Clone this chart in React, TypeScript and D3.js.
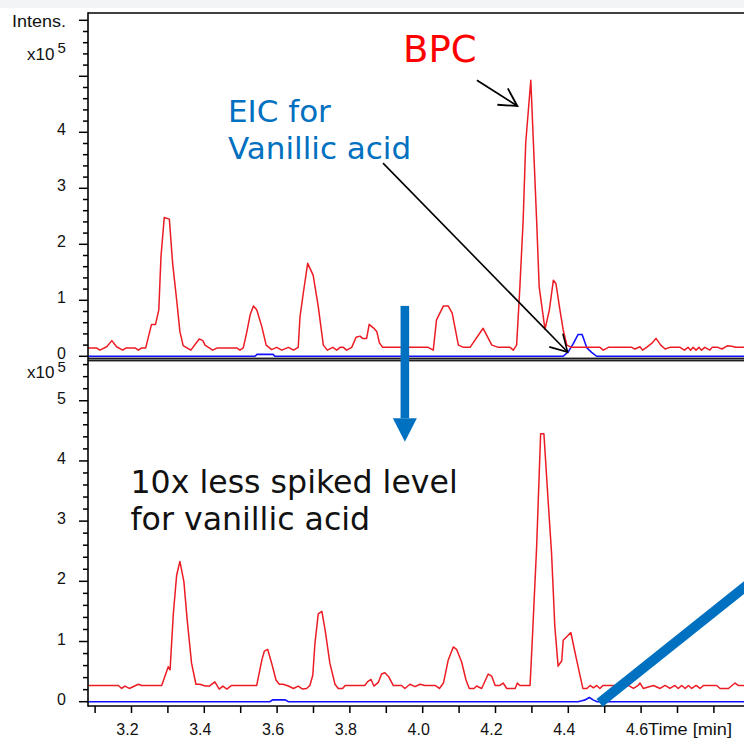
import React from "react";
import * as d3 from "d3";

// ---- data (time in min, intensity in x10^5) ----
const topBpc: [number, number][] = [
  [3.080, 0.15], [3.104, 0.15], [3.113, 0.11], [3.132, 0.17], [3.146, 0.28], [3.159, 0.17], [3.176, 0.11],
  [3.185, 0.15], [3.210, 0.15], [3.219, 0.11], [3.228, 0.15], [3.239, 0.15], [3.255, 0.57], [3.266, 0.57],
  [3.275, 0.83], [3.281, 1.78], [3.290, 2.48], [3.304, 2.45], [3.313, 1.66], [3.324, 1.01], [3.333, 0.44],
  [3.342, 0.19], [3.363, 0.11], [3.386, 0.31], [3.396, 0.28], [3.402, 0.20], [3.423, 0.11], [3.436, 0.15],
  [3.489, 0.15], [3.498, 0.11], [3.507, 0.15], [3.516, 0.41], [3.526, 0.74], [3.535, 0.90], [3.544, 0.83],
  [3.558, 0.53], [3.570, 0.20], [3.585, 0.12], [3.599, 0.16], [3.613, 0.11], [3.631, 0.16], [3.645, 0.11],
  [3.658, 0.16], [3.663, 0.71], [3.672, 1.13], [3.684, 1.66], [3.699, 1.45], [3.713, 0.89], [3.727, 0.20],
  [3.738, 0.11], [3.753, 0.16], [3.764, 0.11], [3.773, 0.16], [3.782, 0.16], [3.791, 0.11], [3.805, 0.16],
  [3.817, 0.34], [3.828, 0.36], [3.835, 0.32], [3.846, 0.32], [3.853, 0.57], [3.866, 0.50], [3.874, 0.44],
  [3.881, 0.24], [3.890, 0.16], [4.015, 0.16], [4.029, 0.11], [4.038, 0.65], [4.057, 0.90], [4.070, 0.90],
  [4.081, 0.77], [4.098, 0.20], [4.112, 0.16], [4.130, 0.16], [4.166, 0.50], [4.190, 0.20], [4.208, 0.16],
  [4.240, 0.16], [4.249, 0.11], [4.258, 0.20], [4.267, 1.24], [4.276, 2.43], [4.283, 3.81], [4.297, 4.93],
  [4.313, 2.43], [4.320, 1.24], [4.336, 0.48], [4.348, 0.83], [4.359, 1.36], [4.366, 1.30], [4.377, 0.83],
  [4.386, 0.47], [4.396, 0.20], [4.409, 0.16], [4.487, 0.16], [4.496, 0.11], [4.510, 0.16], [4.574, 0.16],
  [4.583, 0.13], [4.597, 0.17], [4.604, 0.11], [4.615, 0.16], [4.629, 0.23], [4.641, 0.32], [4.654, 0.20],
  [4.666, 0.13], [4.679, 0.16], [4.707, 0.16], [4.719, 0.11], [4.729, 0.16], [4.736, 0.11], [4.743, 0.16],
  [4.751, 0.11], [4.759, 0.16], [4.766, 0.11], [4.775, 0.16], [4.789, 0.11], [4.795, 0.16], [4.811, 0.16],
  [4.822, 0.13], [4.838, 0.19], [4.849, 0.18], [4.860, 0.16], [4.883, 0.16],
];

const topEic: [number, number][] = [
  [3.080, 0], [3.539, 0], [3.545, 0.035], [3.589, 0.035], [3.594, 0], [4.386, 0], [4.400, 0.08],
  [4.414, 0.23], [4.427, 0.39], [4.438, 0.39], [4.451, 0.15], [4.464, 0.07], [4.478, 0], [4.883, 0],
];

const bottomBpc: [number, number][] = [
  [3.081, 0.27], [3.164, 0.27], [3.173, 0.22], [3.182, 0.26], [3.194, 0.22], [3.219, 0.29], [3.228, 0.27],
  [3.283, 0.27], [3.301, 0.58], [3.306, 0.53], [3.315, 1.47], [3.324, 2.10], [3.333, 2.33], [3.344, 1.99],
  [3.353, 1.36], [3.365, 0.64], [3.377, 0.29], [3.388, 0.29], [3.402, 0.26], [3.414, 0.26], [3.429, 0.33],
  [3.441, 0.21], [3.451, 0.26], [3.462, 0.21], [3.475, 0.27], [3.544, 0.27], [3.558, 0.69], [3.565, 0.84],
  [3.574, 0.87], [3.585, 0.64], [3.597, 0.36], [3.606, 0.29], [3.617, 0.29], [3.631, 0.26], [3.645, 0.22],
  [3.658, 0.26], [3.670, 0.21], [3.681, 0.22], [3.690, 0.27], [3.698, 0.44], [3.704, 0.97], [3.713, 1.46],
  [3.723, 1.50], [3.732, 1.19], [3.745, 0.64], [3.759, 0.29], [3.768, 0.22], [3.780, 0.22], [3.787, 0.27],
  [3.841, 0.27], [3.848, 0.33], [3.858, 0.37], [3.866, 0.26], [3.878, 0.32], [3.887, 0.46], [3.896, 0.48],
  [3.906, 0.42], [3.919, 0.27], [3.942, 0.27], [3.951, 0.22], [3.965, 0.29], [3.979, 0.25], [3.993, 0.29],
  [4.006, 0.27], [4.034, 0.27], [4.046, 0.22], [4.057, 0.31], [4.070, 0.69], [4.084, 0.91], [4.093, 0.87],
  [4.107, 0.66], [4.119, 0.36], [4.128, 0.22], [4.141, 0.22], [4.148, 0.26], [4.162, 0.22], [4.180, 0.46],
  [4.190, 0.42], [4.199, 0.27], [4.212, 0.27], [4.221, 0.31], [4.231, 0.22], [4.254, 0.22], [4.260, 0.31],
  [4.267, 0.27], [4.295, 0.27], [4.302, 1.14], [4.313, 2.57], [4.324, 4.45], [4.333, 4.45], [4.345, 3.30],
  [4.354, 2.47], [4.363, 1.25], [4.372, 0.59], [4.382, 0.68], [4.386, 1.02], [4.407, 1.15], [4.423, 0.69],
  [4.440, 0.22], [4.451, 0.22], [4.460, 0.27], [4.469, 0.23], [4.478, 0.27], [4.487, 0.22], [4.495, 0.27],
  [4.515, 0.27], [4.565, 0.27], [4.579, 0.22], [4.592, 0.27], [4.597, 0.31], [4.606, 0.22], [4.634, 0.27],
  [4.652, 0.22], [4.666, 0.27], [4.679, 0.22], [4.693, 0.27], [4.702, 0.22], [4.712, 0.27], [4.721, 0.22],
  [4.730, 0.27], [4.739, 0.22], [4.751, 0.27], [4.762, 0.22], [4.771, 0.27], [4.808, 0.27], [4.817, 0.22],
  [4.840, 0.22], [4.858, 0.31], [4.867, 0.27], [4.883, 0.27],
];

const bottomEic: [number, number][] = [
  [3.080, 0], [3.580, 0], [3.588, 0.03], [3.622, 0.03], [3.631, 0], [4.427, 0], [4.440, 0.02],
  [4.446, 0.03], [4.458, 0.07], [4.468, 0.03], [4.479, 0], [4.883, 0],
];

const xTickLabels = ["3.2", "3.4", "3.6", "3.8", "4.0", "4.2", "4.4", "4.6"];
const topYLabels = [0, 1, 2, 3, 4];
const bottomYLabels = [0, 1, 2, 3, 4, 5];

const W = 744;
const H = 740;
const NUM_FONT = "'Liberation Sans', Arial, Helvetica, sans-serif";
const ANN_FONT = "'DejaVu Sans', Verdana, sans-serif";
const RED = "#ec1c24";
const BLUE = "#1010ff";
const ANN_BLUE = "#0070c0";

function arrowHead(x1: number, y1: number, x2: number, y2: number, len: number, angDeg: number) {
  const a = Math.atan2(y2 - y1, x2 - x1) + Math.PI;
  const d = (angDeg * Math.PI) / 180;
  const p1 = [x2 + len * Math.cos(a + d), y2 + len * Math.sin(a + d)];
  const p2 = [x2 + len * Math.cos(a - d), y2 + len * Math.sin(a - d)];
  return `M${p1[0]},${p1[1]}L${x2},${y2}L${p2[0]},${p2[1]}`;
}

export default function App() {
  const left = 88;
  const x = d3.scaleLinear().domain([3.0805, 4.8827]).range([left, W]);
  const yTop = d3.scaleLinear().domain([0, 6.1]).range([356.3, 14.7]);
  const yBot = d3.scaleLinear().domain([0, 5.66]).range([701.7, 361]);
  const topFrame = 13;
  const sepY = 359.5;
  const axisY = 706;

  const lineTop = d3.line<[number, number]>().x((d) => x(d[0])).y((d) => yTop(d[1]));
  const lineBot = d3.line<[number, number]>().x((d) => x(d[0])).y((d) => yBot(d[1]));

  const topTicks = d3.range(0, 30.5, 1).map((i) => i / 5);
  const botTicks = d3.range(0, 28.5, 1).map((i) => i / 5);
  const xTicks = d3.range(31, 48.5, 1).map((i) => i / 10);

  // annotations in data coordinates
  const bpcFrom = [x(4.149), yTop(4.93)];
  const bpcTo = [x(4.26), yTop(4.47)];
  const eicFrom = [x(3.891), yTop(3.45)];
  const eicTo = [x(4.398), yTop(0.077)];
  const downX = x(3.951);
  const downTop = yTop(0.9);
  const downBase = yBot(4.71);
  const downTip = yBot(4.32);
  const diagFrom = [x(4.486), yBot(-0.02)];
  const diagTo = [x(4.95), yBot(2.22)];

  return (
    <svg
      width={W}
      height={H}
      style={{ position: "absolute", left: 0, top: 0, background: "#fff" }}
    >
      <rect x={0} y={0} width={W} height={8} fill="#f3f4f6" />

      {/* plot traces */}
      <path d={lineTop(topEic) || ""} fill="none" stroke={BLUE} strokeWidth={1.6} />
      <path d={lineTop(topBpc) || ""} fill="none" stroke={RED} strokeWidth={1.5} strokeLinejoin="round" />
      <path d={lineBot(bottomEic) || ""} fill="none" stroke={BLUE} strokeWidth={1.6} />
      <path d={lineBot(bottomBpc) || ""} fill="none" stroke={RED} strokeWidth={1.5} strokeLinejoin="round" />

      {/* frame */}
      <line x1={left} x2={W} y1={topFrame} y2={topFrame} stroke="#000" strokeWidth={1.6} />
      <rect x={left} y={sepY - 1.8} width={W - left} height={3.6} fill="#777" />
      <line x1={left} x2={W} y1={sepY - 1.3} y2={sepY - 1.3} stroke="#000" strokeWidth={1.1} />
      <line x1={left} x2={W} y1={sepY + 1.3} y2={sepY + 1.3} stroke="#000" strokeWidth={1.1} />
      <line x1={left} x2={left} y1={topFrame - 0.8} y2={axisY + 0.8} stroke="#000" strokeWidth={1.6} />
      <line x1={left} x2={W} y1={axisY} y2={axisY} stroke="#000" strokeWidth={1.6} />

      {/* y ticks */}
      {topTicks.map((v, i) => (
        <line key={"tt" + i} x1={i % 5 === 0 ? left - 9 : left - 5} x2={left} y1={yTop(v)} y2={yTop(v)} stroke="#000" strokeWidth={1.5} />
      ))}
      {botTicks.map((v, i) => (
        <line key={"bt" + i} x1={i % 5 === 0 ? left - 9 : left - 5} x2={left} y1={yBot(v)} y2={yBot(v)} stroke="#000" strokeWidth={1.5} />
      ))}
      {topYLabels.map((v) => (
        <text key={"tl" + v} x={66} y={yTop(v) + 2.5} textAnchor="end" fontFamily={NUM_FONT} fontSize={16} fill="#111">
          {v}
        </text>
      ))}
      {bottomYLabels.map((v) => (
        <text key={"bl" + v} x={66} y={yBot(v) + 3} textAnchor="end" fontFamily={NUM_FONT} fontSize={16} fill="#111">
          {v}
        </text>
      ))}

      {/* x ticks */}
      {xTicks.map((t, i) => (
        <line key={"xt" + i} x1={x(t)} x2={x(t)} y1={axisY} y2={axisY + 7} stroke="#000" strokeWidth={1.5} />
      ))}
      {xTickLabels.map((s) => (
        <text key={"xl" + s} x={x(+s) - 4} y={735} textAnchor="middle" fontFamily={NUM_FONT} fontSize={16} fill="#111">
          {s}
        </text>
      ))}
      <text x={648} y={735} fontFamily={NUM_FONT} fontSize={16} fill="#111" textLength={84} lengthAdjust="spacingAndGlyphs">
        Time [min]
      </text>

      {/* axis titles */}
      <text x={12} y={26.7} fontFamily={NUM_FONT} fontSize={16} fill="#111" textLength={54} lengthAdjust="spacingAndGlyphs">
        Intens.
      </text>
      <text x={27} y={60} fontFamily={NUM_FONT} fontSize={17} fill="#111">x10</text>
      <text x={57.5} y={52.5} fontFamily={NUM_FONT} fontSize={15} fill="#111">5</text>
      <text x={27} y={378} fontFamily={NUM_FONT} fontSize={17} fill="#111">x10</text>
      <text x={57.5} y={372} fontFamily={NUM_FONT} fontSize={15} fill="#111">5</text>

      {/* annotations */}
      <text x={403} y={62} fontFamily={ANN_FONT} fontSize={37} fill="#ff0000">BPC</text>
      <line x1={bpcFrom[0]} y1={bpcFrom[1]} x2={bpcTo[0]} y2={bpcTo[1]} stroke="#000" strokeWidth={1.8} />
      <path d={arrowHead(bpcFrom[0], bpcFrom[1], bpcTo[0], bpcTo[1], 20, 29)} fill="none" stroke="#000" strokeWidth={1.8} />

      <text x={228} y={121.5} fontFamily={ANN_FONT} fontSize={31} fill={ANN_BLUE}>EIC for</text>
      <text x={228} y={159} fontFamily={ANN_FONT} fontSize={31} fill={ANN_BLUE}>Vanillic acid</text>
      <line x1={eicFrom[0]} y1={eicFrom[1]} x2={eicTo[0]} y2={eicTo[1]} stroke="#000" strokeWidth={1.6} />
      <path d={arrowHead(eicFrom[0], eicFrom[1], eicTo[0], eicTo[1], 19, 30)} fill="none" stroke="#000" strokeWidth={1.6} />

      <rect x={downX - 4.3} y={downTop} width={8.6} height={downBase - downTop} fill={ANN_BLUE} />
      <path d={`M${downX - 12},${downBase}L${downX + 12},${downBase}L${downX},${downTip}Z`} fill={ANN_BLUE} />

      <text x={130.5} y={492.5} fontFamily={ANN_FONT} fontSize={31.6} fill="#111">10x less spiked level</text>
      <text x={130.5} y={530} fontFamily={ANN_FONT} fontSize={31.6} fill="#111">for vanillic acid</text>

      <line x1={diagFrom[0]} y1={diagFrom[1]} x2={diagTo[0]} y2={diagTo[1]} stroke={ANN_BLUE} strokeWidth={10} />
    </svg>
  );
}
